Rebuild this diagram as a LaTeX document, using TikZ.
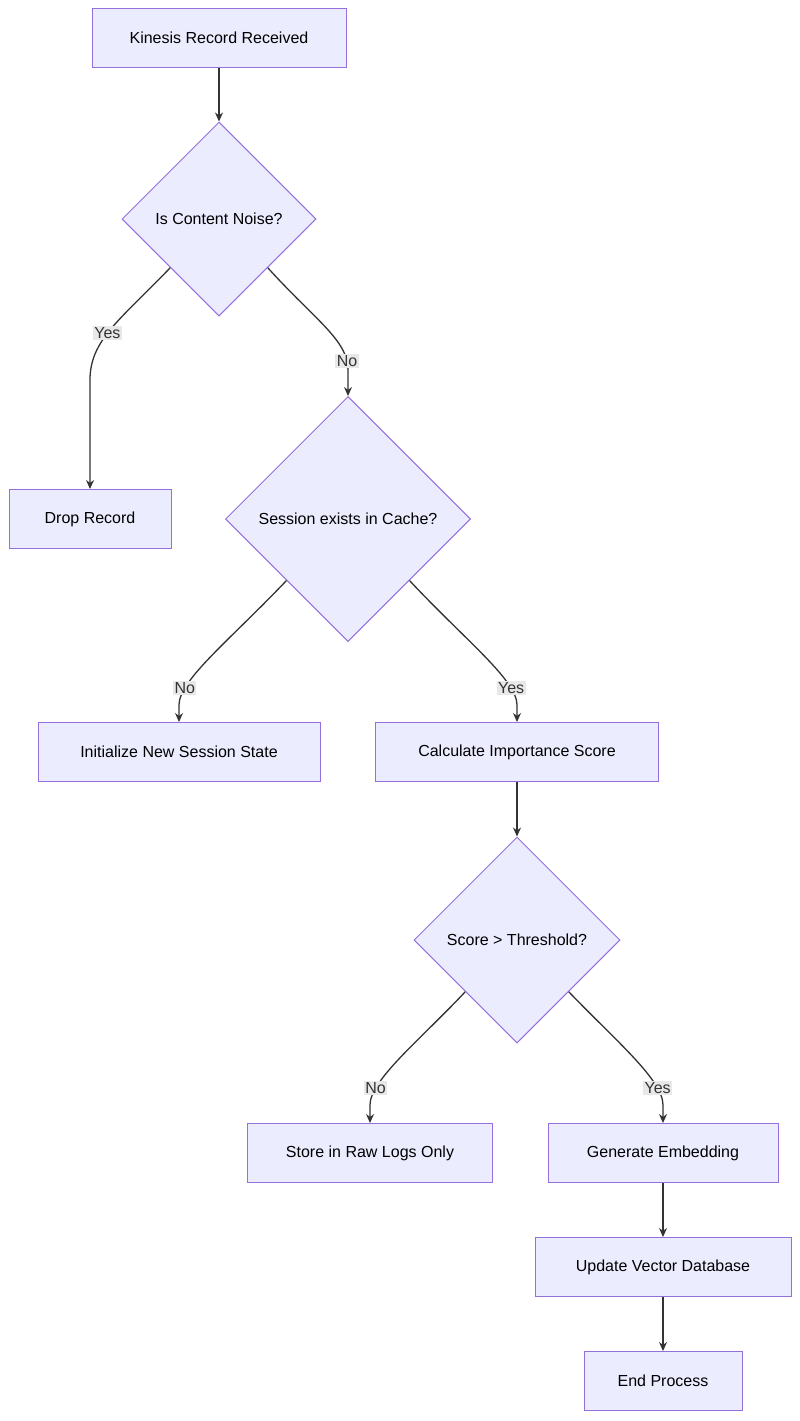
\documentclass[tikz,border=0pt]{standalone}
\usepackage{fontspec}
\setmainfont{Liberation Sans}
\usetikzlibrary{arrows.meta, shapes.geometric}
\definecolor{boxfill}{HTML}{ECECFF}
\definecolor{boxline}{HTML}{9370DB}
\definecolor{arrowc}{HTML}{333333}
\definecolor{lblfill}{HTML}{E8E8E8}
\begin{document}
\begin{tikzpicture}[x=1pt, y=-1pt, font=\fontsize{16}{19}\selectfont,
    proc/.style={rectangle, draw=boxline, fill=boxfill, line width=1pt, minimum height=59pt, inner sep=0pt},
    choice/.style={diamond, draw=boxline, fill=boxfill, line width=1pt, inner sep=0pt},
    lbl/.style={fill=lblfill, inner sep=1.5pt, text=arrowc},
    flow/.style={draw=arrowc, line width=1.3pt, -{Stealth[length=9pt,width=8pt]}}]
  \useasboundingbox (0,0) rectangle (800,1421);
  \fill[white] (0,0) rectangle (800,1421);

  % nodes
  \node[proc, minimum width=254pt] (rec) at (219,38) {Kinesis Record Received};
  \node[choice, minimum width=194pt, minimum height=194pt] (noise) at (219,219) {Is Content Noise?};
  \node[proc, minimum width=162pt] (drop) at (90,519) {Drop Record};
  \node[choice, minimum width=245pt, minimum height=245pt] (cache) at (348,519) {Session exists in Cache?};
  \node[proc, minimum width=282pt] (init) at (179,752) {Initialize New Session State};
  \node[proc, minimum width=283pt] (score) at (517,752) {Calculate Importance Score};
  \node[choice, minimum width=206pt, minimum height=206pt] (thr) at (517,940) {Score > Threshold?};
  \node[proc, minimum width=245pt] (raw) at (370,1153) {Store in Raw Logs Only};
  \node[proc, minimum width=230pt] (emb) at (663,1153) {Generate Embedding};
  \node[proc, minimum width=256pt] (vec) at (663,1267) {Update Vector Database};
  \node[proc, minimum width=158pt] (done) at (663,1381) {End Process};

  % connectors
  \draw[flow] (rec) -- (noise);
  \draw[flow] (noise.south west) .. controls (120,320) and (90,340) .. node[lbl, pos=0.55] {Yes} (90,380) -- (drop.north);
  \draw[flow] (noise.south east) .. controls (315,320) and (348,340) .. node[lbl, pos=0.9] {No} (348,370) -- (cache.north);
  \draw[flow] (cache.south west) .. controls (230,640) and (179,680) .. node[lbl, pos=0.8] {No} (179,705) -- (init.north);
  \draw[flow] (cache.south east) .. controls (465,640) and (517,680) .. node[lbl, pos=0.8] {Yes} (517,705) -- (score.north);
  \draw[flow] (score) -- (thr);
  \draw[flow] (thr.south west) .. controls (420,1040) and (370,1080) .. node[lbl, pos=0.8] {No} (370,1105) -- (raw.north);
  \draw[flow] (thr.south east) .. controls (615,1040) and (663,1080) .. node[lbl, pos=0.8] {Yes} (663,1105) -- (emb.north);
  \draw[flow] (emb) -- (vec);
  \draw[flow] (vec) -- (done);
\end{tikzpicture}
\end{document}
